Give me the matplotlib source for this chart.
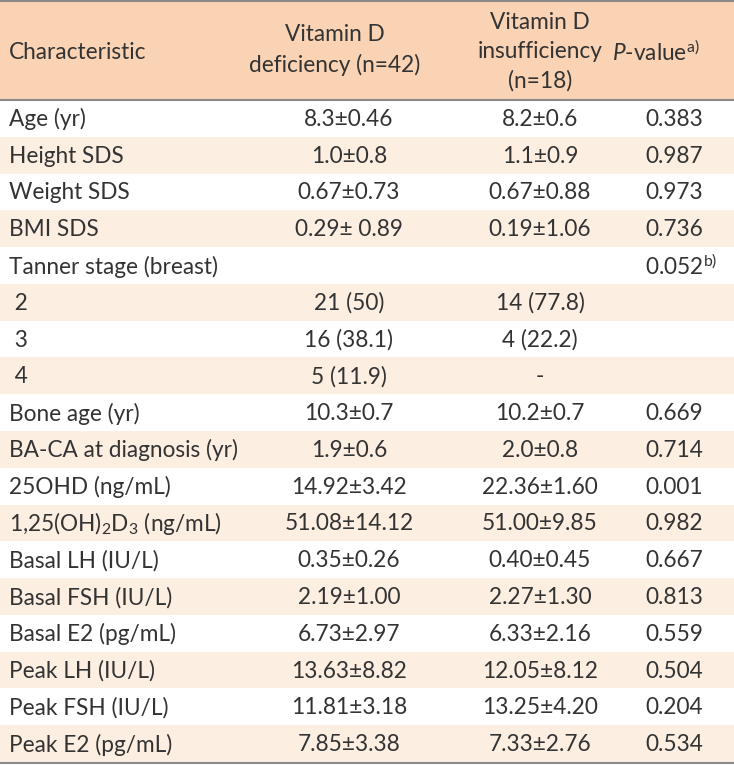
import matplotlib.pyplot as plt

plt.rcParams['font.family'] = ['Lato', 'DejaVu Sans']
plt.rcParams['mathtext.fontset'] = 'custom'
plt.rcParams['mathtext.rm'] = 'Lato'
plt.rcParams['mathtext.it'] = 'Lato:italic'

# table content
characteristics = ['Age (yr)', 'Height SDS', 'Weight SDS', 'BMI SDS',
                   'Tanner stage (breast)', ' 2', ' 3', ' 4',
                   'Bone age (yr)', 'BA-CA at diagnosis (yr)', '25OHD (ng/mL)',
                   r'1,25(OH)$_2$D$_3$ (ng/mL)', 'Basal LH (IU/L)',
                   'Basal FSH (IU/L)', 'Basal E2 (pg/mL)', 'Peak LH (IU/L)',
                   'Peak FSH (IU/L)', 'Peak E2 (pg/mL)']
deficiency = ['8.3±0.46', '1.0±0.8', '0.67±0.73', '0.29± 0.89', '',
              '21 (50)', '16 (38.1)', '5 (11.9)', '10.3±0.7', '1.9±0.6',
              '14.92±3.42', '51.08±14.12', '0.35±0.26', '2.19±1.00',
              '6.73±2.97', '13.63±8.82', '11.81±3.18', '7.85±3.38']
insufficiency = ['8.2±0.6', '1.1±0.9', '0.67±0.88', '0.19±1.06', '',
                 '14 (77.8)', '4 (22.2)', '-', '10.2±0.7', '2.0±0.8',
                 '22.36±1.60', '51.00±9.85', '0.40±0.45', '2.27±1.30',
                 '6.33±2.16', '12.05±8.12', '13.25±4.20', '7.33±2.76']
p_values = ['0.383', '0.987', '0.973', '0.736', r'0.052$^{\mathrm{b)}}$',
            '', '', '', '0.669', '0.714', '0.001', '0.982', '0.667',
            '0.813', '0.559', '0.504', '0.204', '0.534']

header_col = '#f9d3b4'
stripe_col = '#fdeee2'
text_col = '#333333'
line_col = '#8a8a8a'
fs = 16.3

W, H = 734, 765
fig = plt.figure(figsize=(W / 100, H / 100), dpi=100)
ax = fig.add_axes([0, 0, 1, 1])
ax.set_xlim(0, W)
ax.set_ylim(H, 0)
ax.axis('off')

head_top, head_bot = 1, 100
row_h = (762 - head_bot) / len(characteristics)

ax.axhspan(head_top, head_bot, color=header_col, lw=0)
ax.text(9, 52, 'Characteristic', fontsize=fs, color=text_col, va='center')
ax.text(335, 50, 'Vitamin D\ndeficiency (n=42)', fontsize=fs, color=text_col,
        va='center', ha='center', linespacing=1.45)
ax.text(540, 52, 'Vitamin D\ninsufficiency\n(n=18)', fontsize=fs,
        color=text_col, va='center', ha='center', linespacing=1.45)
ax.text(612, 52, r'$\mathit{P}$-value$^{\mathrm{a)}}$', fontsize=fs,
        color=text_col, va='center')

for i, (c, d, s, p) in enumerate(zip(characteristics, deficiency,
                                     insufficiency, p_values)):
    y0 = head_bot + i * row_h
    if i % 2 == 1:
        ax.axhspan(y0, y0 + row_h, color=stripe_col, lw=0)
    yc = y0 + row_h / 2 + 1
    ax.text(9, yc, c, fontsize=fs, color=text_col, va='center')
    ax.text(349, yc, d, fontsize=fs, color=text_col, va='center', ha='center')
    ax.text(540, yc, s, fontsize=fs, color=text_col, va='center', ha='center')
    ax.text(645, yc, p, fontsize=fs, color=text_col, va='center')

for y in [head_top, head_bot, 762.5]:
    ax.axhline(y, color=line_col, lw=1.5)

fig.savefig('out.png', dpi=100)
